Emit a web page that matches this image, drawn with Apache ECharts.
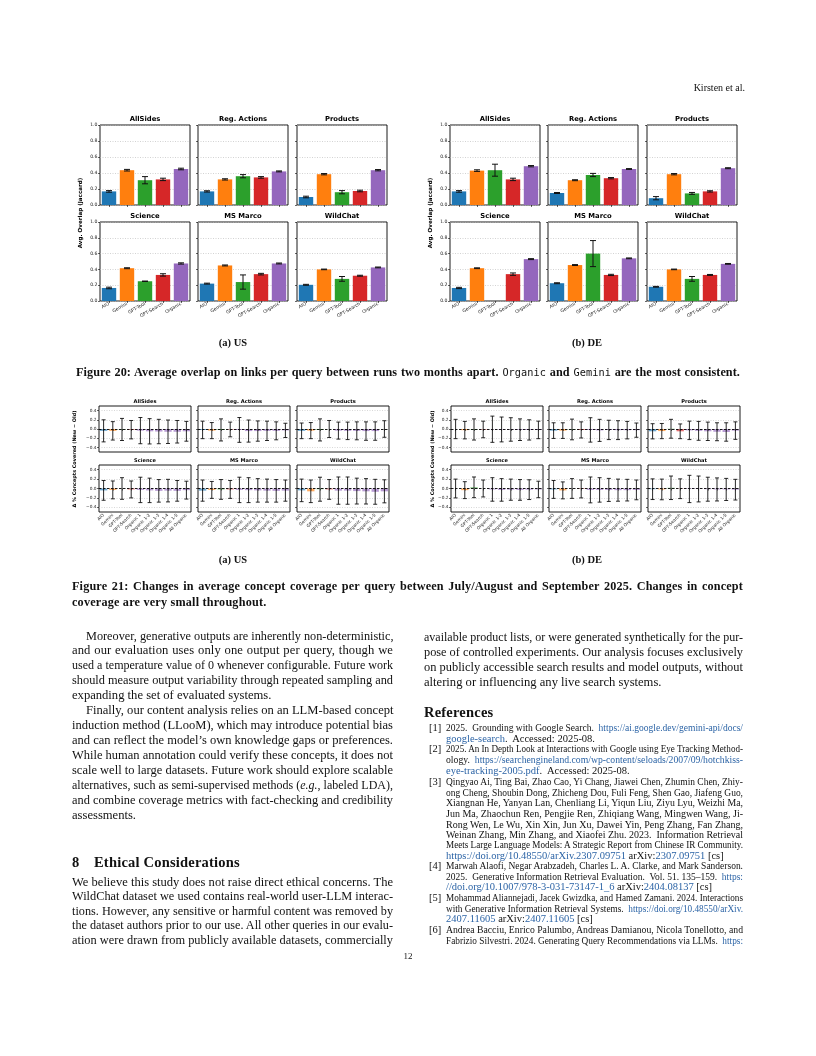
<!DOCTYPE html>
<html><head><meta charset="utf-8">
<script src="https://cdn.jsdelivr.net/npm/echarts@6/dist/echarts.min.js"></script>
<style>
html,body{margin:0;padding:0;background:#fff;}
#page{position:relative;width:816px;height:1056px;overflow:hidden;background:#fff;}
#chart{position:absolute;left:0;top:0;width:816px;height:1056px;}
.t{position:absolute;white-space:nowrap;color:#111;transform-origin:0 50%;}
.t a{color:#2c64a6;text-decoration:none;}
.t code{font-family:'DejaVu Sans Mono','Liberation Mono',monospace;font-weight:normal;font-size:0.84em;}
</style></head>
<body><div id="page"><div id="chart"></div></div>
<script>
// ---------------- DATA ----------------
const panelTitles = ['AllSides', 'Reg. Actions', 'Products', 'Science', 'MS Marco', 'WildChat'];
const fig20Categories = ['AIO', 'Gemini', 'GPT-Tool', 'GPT-Search', 'Organic'];
const fig21Categories = ['AIO', 'Gemini', 'GPT-Tool', 'GPT-Search', 'Organic 1', 'Organic 1-2', 'Organic 1-3', 'Organic 1-4', 'Organic 1-5', 'All Organic'];
const fig20Ticks = [0, 0.2, 0.4, 0.6, 0.8, 1.0];
const fig21Ticks = [-0.4, -0.2, 0, 0.2, 0.4];

// Figure 20 (a) US: avg Jaccard overlap, one row per panel
const fig20UsMean = [
  [0.17, 0.435, 0.31, 0.32, 0.45],
  [0.17, 0.32, 0.36, 0.345, 0.42],
  [0.10, 0.385, 0.16, 0.175, 0.435],
  [0.165, 0.415, 0.25, 0.33, 0.475],
  [0.22, 0.45, 0.24, 0.34, 0.475],
  [0.205, 0.40, 0.28, 0.32, 0.425]
];
const fig20UsErr = [
  [0.01, 0.01, 0.045, 0.015, 0.01],
  [0.008, 0.008, 0.02, 0.01, 0.006],
  [0.01, 0.008, 0.02, 0.01, 0.008],
  [0.01, 0.006, 0.002, 0.015, 0.008],
  [0.006, 0.006, 0.09, 0.01, 0.006],
  [0.006, 0.004, 0.03, 0.006, 0.005]
];
// Figure 20 (b) DE
const fig20DeMean = [
  [0.17, 0.43, 0.435, 0.32, 0.485],
  [0.15, 0.31, 0.375, 0.335, 0.45],
  [0.085, 0.385, 0.145, 0.17, 0.46],
  [0.165, 0.415, 0.0, 0.34, 0.53],
  [0.225, 0.455, 0.60, 0.33, 0.54],
  [0.18, 0.40, 0.28, 0.33, 0.47]
];
const fig20DeErr = [
  [0.01, 0.01, 0.075, 0.015, 0.008],
  [0.006, 0.006, 0.02, 0.008, 0.005],
  [0.02, 0.008, 0.012, 0.008, 0.006],
  [0.008, 0.005, 0.0, 0.015, 0.006],
  [0.006, 0.006, 0.165, 0.008, 0.005],
  [0.005, 0.004, 0.03, 0.006, 0.005]
];
// Figure 21 (a) US: change in % concepts covered (new - old)
const fig21UsMean = [
  [-0.04, -0.04, -0.01, -0.015, -0.035, -0.05, -0.055, -0.06, -0.06, -0.05],
  [-0.02, -0.035, -0.02, -0.01, -0.02, -0.045, -0.045, -0.04, -0.04, -0.03],
  [-0.04, -0.035, -0.02, 0.0, -0.035, -0.04, -0.04, -0.045, -0.045, 0.0],
  [-0.04, -0.03, 0.0, -0.02, -0.03, -0.04, -0.05, -0.045, -0.05, -0.035],
  [-0.045, -0.03, -0.02, -0.02, -0.03, -0.035, -0.04, -0.045, -0.05, -0.045],
  [-0.04, -0.06, -0.015, -0.02, -0.045, -0.045, -0.055, -0.06, -0.07, -0.06]
];
const fig21UsErr = [
  [0.24, 0.2, 0.24, 0.2, 0.285, 0.275, 0.265, 0.255, 0.245, 0.215],
  [0.19, 0.175, 0.24, 0.16, 0.27, 0.24, 0.22, 0.21, 0.195, 0.155],
  [0.17, 0.175, 0.24, 0.185, 0.185, 0.19, 0.195, 0.2, 0.2, 0.18],
  [0.21, 0.19, 0.23, 0.18, 0.27, 0.26, 0.24, 0.24, 0.22, 0.19],
  [0.225, 0.18, 0.21, 0.19, 0.27, 0.265, 0.25, 0.245, 0.24, 0.225],
  [0.24, 0.24, 0.255, 0.21, 0.29, 0.29, 0.275, 0.27, 0.265, 0.245]
];
// Figure 21 (b) DE
const fig21DeMean = [
  [0.0, -0.025, -0.01, -0.01, -0.005, -0.01, -0.01, -0.015, -0.02, -0.02],
  [-0.035, -0.035, -0.01, -0.02, -0.02, -0.03, -0.02, -0.025, -0.025, -0.025],
  [-0.05, -0.045, 0.005, -0.05, -0.03, -0.04, -0.05, -0.06, -0.065, -0.035],
  [0.0, -0.035, 0.025, 0.0, -0.02, -0.03, -0.025, -0.03, -0.025, -0.02],
  [-0.02, -0.04, 0.0, -0.01, -0.03, -0.03, -0.03, -0.035, -0.035, -0.03],
  [-0.015, -0.02, 0.015, -0.005, -0.01, -0.01, -0.015, -0.02, -0.02, -0.025]
];
const fig21DeErr = [
  [0.21, 0.19, 0.23, 0.18, 0.285, 0.27, 0.255, 0.235, 0.22, 0.19],
  [0.17, 0.17, 0.225, 0.175, 0.265, 0.24, 0.21, 0.205, 0.19, 0.155],
  [0.165, 0.165, 0.205, 0.16, 0.2, 0.205, 0.2, 0.195, 0.2, 0.19],
  [0.2, 0.18, 0.22, 0.18, 0.25, 0.24, 0.225, 0.22, 0.21, 0.175],
  [0.19, 0.18, 0.21, 0.19, 0.275, 0.26, 0.245, 0.235, 0.23, 0.21],
  [0.22, 0.22, 0.25, 0.21, 0.29, 0.275, 0.255, 0.245, 0.235, 0.22]
];

// ---------------- CHARTS ----------------
const PALETTE = ['#1f77b4', '#ff7f0e', '#2ca02c', '#d62728', '#9467bd'];
const SANS = 'DejaVu Sans';
const grids = [], xAxes = [], yAxes = [], series = [], graphics = [];

function tickFmt(v) {
  const s = Math.abs(v).toFixed(1);
  return v < -1e-9 ? '\u2212' + s : s;
}

function errRenderer(halfCap, color, lw) {
  return function (params, api) {
    const x = api.value(0), lo = api.value(1), hi = api.value(2);
    if (hi - lo <= 1e-9) return null;
    const a = api.coord([x, lo]), b = api.coord([x, hi]);
    const st = { stroke: color, lineWidth: lw };
    return { type: 'group', children: [
      { type: 'line', shape: { x1: a[0], y1: a[1], x2: b[0], y2: b[1] }, style: st },
      { type: 'line', shape: { x1: a[0] - halfCap, y1: a[1], x2: a[0] + halfCap, y2: a[1] }, style: st },
      { type: 'line', shape: { x1: b[0] - halfCap, y1: b[1], x2: b[0] + halfCap, y2: b[1] }, style: st }
    ]};
  };
}

function addPanel(p) {
  const gi = grids.length;
  grids.push({ left: p.left, top: p.top, width: p.width, height: p.height, show: true,
    borderColor: '#000', borderWidth: 0.9, backgroundColor: 'rgba(0,0,0,0)' });
  xAxes.push({ type: 'category', gridIndex: gi, data: p.cats,
    axisLine: { show: false },
    axisTick: { show: true, alignWithLabel: true, length: 2, lineStyle: { color: '#000', width: 0.6 } },
    axisLabel: { show: p.showX, rotate: p.rot, interval: 0, fontSize: p.tickFont, color: '#222', margin: 2.5, fontFamily: SANS },
    splitLine: { show: false } });
  const y = { type: 'value', gridIndex: gi, min: p.ymin, max: p.ymax,
    axisLine: { show: false },
    axisTick: { show: true, length: 2, lineStyle: { color: '#000', width: 0.6 } },
    axisLabel: { show: p.showY, fontSize: p.tickFont, color: '#222', margin: 2.5, fontFamily: SANS, formatter: tickFmt },
    splitLine: { show: false } };
  if (p.interval) {
    y.interval = p.interval;
    y.splitLine = { show: true, lineStyle: { type: [1, 1.5], color: '#b5b5b5', width: 0.6 } };
  } else {
    y.axisTick.customValues = p.ticks;
    y.axisLabel.customValues = p.ticks;
  }
  yAxes.push(y);

  const bar = { type: 'bar', xAxisIndex: gi, yAxisIndex: gi, silent: true, barCategoryGap: '20%',
    data: p.mean.map((v, i) => ({ value: v, itemStyle: { color: p.colorOf(i), opacity: p.barOpacity } })) };
  if (p.markLines) {
    bar.markLine = { silent: true, symbol: ['none', 'none'], label: { show: false },
      lineStyle: { type: [1, 1.5], color: '#bdbdbd', width: 0.6 },
      data: p.markLines.map(v => v === 0
        ? { yAxis: 0, lineStyle: { type: [2.5, 1.5], color: '#000', width: 0.9 } }
        : { yAxis: v }) };
  }
  series.push(bar);
  series.push({ type: 'custom', xAxisIndex: gi, yAxisIndex: gi, silent: true, z: 5,
    renderItem: errRenderer(p.cap, p.errColor, p.errWidth),
    encode: { x: 0, y: [1, 2] },
    data: p.mean.map((m, i) => [i, m - p.err[i], m + p.err[i]]) });

  graphics.push({ type: 'text', x: p.left + p.width / 2, y: p.top - p.titleOff, silent: true,
    style: { text: p.title, fontSize: p.titleFont, fontWeight: 'bold', fontFamily: SANS, fill: '#000',
      align: 'center', verticalAlign: 'middle' } });
}

function addFigure20(lefts, means, errs, ylabelX) {
  const tops = [125, 222], heights = [80, 79];
  for (let k = 0; k < 6; k++) {
    const r = Math.floor(k / 3), c = k % 3;
    addPanel({ left: lefts[c], top: tops[r], width: 90, height: heights[r],
      cats: fig20Categories, mean: means[k], err: errs[k], title: panelTitles[k],
      showX: r === 1, showY: c === 0, rot: 30, tickFont: 4.6, titleFont: 6.8, titleOff: 5.5,
      ymin: fig20Ticks[0], ymax: fig20Ticks[fig20Ticks.length - 1], interval: 0.2,
      colorOf: i => PALETTE[i], barOpacity: 1, cap: 3, errColor: '#111', errWidth: 1 });
  }
  graphics.push({ type: 'text', x: ylabelX, y: 213, rotation: Math.PI / 2, silent: true,
    style: { text: 'Avg. Overlap (Jaccard)', fontSize: 5.6, fontWeight: 'bold', fontFamily: SANS, fill: '#000',
      align: 'center', verticalAlign: 'middle' } });
}

function addFigure21(lefts, means, errs, ylabelX) {
  const tops = [406, 465], heights = [46, 47];
  for (let k = 0; k < 6; k++) {
    const r = Math.floor(k / 3), c = k % 3;
    addPanel({ left: lefts[c], top: tops[r], width: 92, height: heights[r],
      cats: fig21Categories, mean: means[k], err: errs[k], title: panelTitles[k],
      showX: r === 1, showY: c === 0, rot: 45, tickFont: 4.3, titleFont: 5.1, titleOff: 4.8,
      ymin: -0.5, ymax: 0.5, ticks: fig21Ticks, markLines: [-0.4, -0.2, 0.2, 0.4, 0],
      colorOf: i => PALETTE[Math.min(i, 4)], barOpacity: 0.65, cap: 2, errColor: '#111', errWidth: 0.9 });
  }
  graphics.push({ type: 'text', x: ylabelX, y: 459, rotation: Math.PI / 2, silent: true,
    style: { text: '\u0394 % Concepts Covered (New \u2212 Old)', fontSize: 4.9, fontWeight: 'bold', fontFamily: SANS, fill: '#000',
      align: 'center', verticalAlign: 'middle' } });
}

addFigure20([100, 198, 297], fig20UsMean, fig20UsErr, 81);
addFigure20([450, 548, 647], fig20DeMean, fig20DeErr, 431);
addFigure21([99, 198, 297], fig21UsMean, fig21UsErr, 75);
addFigure21([451, 549, 648], fig21DeMean, fig21DeErr, 433);

const chart = echarts.init(document.getElementById('chart'), null, { renderer: 'canvas', width: 816, height: 1056 });
chart.setOption({ animation: false, backgroundColor: 'transparent',
  grid: grids, xAxis: xAxes, yAxis: yAxes, series: series, graphic: { elements: graphics } });

// ---------------- PAGE TEXT ----------------
const page = document.getElementById('page');
const SERIF = "'Liberation Serif','DejaVu Serif',serif";
function line(html, x, yc, w, o) {
  const d = document.createElement('div');
  d.className = 't';
  const lh = o.size * 1.3;
  d.style.fontFamily = o.font || SERIF;
  d.style.fontSize = o.size + 'px';
  d.style.fontWeight = o.weight || 'normal';
  d.style.lineHeight = lh + 'px';
  d.style.top = (yc - lh / 2) + 'px';
  d.style.left = x + 'px';
  if (o.ls) d.style.letterSpacing = o.ls + 'px';
  d.innerHTML = html;
  page.appendChild(d);
  const nat = d.getBoundingClientRect().width;
  const align = o.align || 'left';
  if (align === 'justify') {
    const txt = d.textContent.trim().replace(/\s+/g, ' ');
    const n = (txt.match(/ /g) || []).length;
    if (nat < w && n > 0) {
      const extra = w - nat;
      const chars = txt.length;
      const ls = Math.min(extra * 0.45 / chars, 0.35);
      d.style.letterSpacing = ((o.ls || 0) + ls) + 'px';
      d.style.wordSpacing = ((extra - ls * chars) / n) + 'px';
    } else if (nat > w) d.style.transform = 'scaleX(' + (w / nat) + ')';
  } else if (align === 'center') {
    const s = nat > w ? w / nat : 1;
    d.style.left = (x + w / 2 - nat * s / 2) + 'px';
    if (s < 1) d.style.transform = 'scaleX(' + s + ')';
  } else if (align === 'right') {
    d.style.left = (x + w - nat) + 'px';
  } else if (nat > w) {
    d.style.transform = 'scaleX(' + (w / nat) + ')';
  }
}
function block(lines, x, y0, lead, w, o) {
  lines.forEach((ln, i) => {
    const isObj = typeof ln === 'object';
    const txt = isObj ? ln.t : ln;
    const ind = isObj && ln.indent ? ln.indent : 0;
    const al = isObj && ln.last ? 'left' : 'justify';
    line(txt, x + ind, y0 + i * lead, w - ind, Object.assign({}, o, { align: al }));
  });
}

// header
line('Kirsten et al.', 600, 87, 145, { size: 10, align: 'right' });

// figure captions
line('(a) US', 183, 343, 100, { size: 10.5, weight: 'bold', align: 'center' });
line('(b) DE', 537, 343, 100, { size: 10.5, weight: 'bold', align: 'center' });
line('Figure 20: Average overlap on links per query between runs two months apart. <code>Organic</code> and <code>Gemini</code> are the most consistent.',
  76, 373, 664, { size: 12.2, weight: 'bold', align: 'justify' });
line('(a) US', 183, 560, 100, { size: 10.5, weight: 'bold', align: 'center' });
line('(b) DE', 537, 560, 100, { size: 10.5, weight: 'bold', align: 'center' });
line('Figure 21: Changes in average concept coverage per query between July/August and September 2025. Changes in concept',
  72, 587, 671, { size: 12.2, weight: 'bold', align: 'justify' });
line('coverage are very small throughout.', 72, 602.5, 671, { size: 12.2, weight: 'bold', align: 'left', ls: 0.2 });

// left column
const body = { size: 12.6 };
block([
  { t: 'Moreover, generative outputs are inherently non-deterministic,', indent: 13.5 },
  'and our evaluation uses only one output per query, though we',
  'used a temperature value of 0 whenever configurable. Future work',
  'should measure output variability through repeated sampling and',
  { t: 'expanding the set of evaluated systems.', last: true },
  { t: 'Finally, our content analysis relies on an LLM-based concept', indent: 13.5 },
  'induction method (LLooM), which may introduce potential bias',
  'and can reflect the model\u2019s own knowledge gaps or preferences.',
  'While human annotation could verify these concepts, it does not',
  'scale well to large datasets. Future work should explore scalable',
  'alternatives, such as semi-supervised methods (<i>e.g.</i>, labeled LDA),',
  'and combine coverage metrics with fact-checking and credibility',
  { t: 'assessments.', last: true }
], 72, 635.7, 14.95, 321, body);

line('8', 72, 862.3, 20, { size: 14.5, weight: 'bold' });
line('Ethical Considerations', 94, 862.3, 250, { size: 14.5, weight: 'bold', ls: 0.2 });
block([
  'We believe this study does not raise direct ethical concerns. The',
  'WildChat dataset we used contains real-world user-LLM interac-',
  'tions. However, any sensitive or harmful content was removed by',
  'the dataset authors prior to our use. All other queries in our evalu-',
  'ation were drawn from publicly available datasets, commercially'
], 72, 881.7, 14.65, 321, body);

// right column
block([
  'available product lists, or were generated synthetically for the pur-',
  'pose of controlled experiments. Our analysis focuses exclusively',
  'on publicly accessible search results and model outputs, without',
  { t: 'altering or influencing any live search systems.', last: true }
], 424, 637.3, 14.8, 319, body);

line('References', 424, 712.3, 200, { size: 14.5, weight: 'bold', ls: 0.2 });

const refO = { size: 10.5 };
const refX = 446, refW = 297;
function ref(num, lines, ys, lastJust) {
  line('[' + num + ']', 429, ys[0], 16, refO);
  lines.forEach((ln, i) => {
    const last = i === lines.length - 1 && !lastJust;
    line(ln, refX, ys[i], refW, Object.assign({}, refO, { align: last ? 'left' : 'justify' }));
  });
}
ref(1, [
  '2025.&nbsp; Grounding with Google Search.&nbsp; <a>https://ai.google.dev/gemini-api/docs/</a>',
  '<a>google-search</a>.&nbsp; Accessed: 2025-08.'
], [728.3, 738.7]);
ref(2, [
  '2025. An In Depth Look at Interactions with Google using Eye Tracking Method-',
  'ology.&nbsp; <a>https://searchengineland.com/wp-content/seloads/2007/09/hotchkiss-</a>',
  '<a>eye-tracking-2005.pdf</a>.&nbsp; Accessed: 2025-08.'
], [749.3, 759.7, 770.7]);
ref(3, [
  'Qingyao Ai, Ting Bai, Zhao Cao, Yi Chang, Jiawei Chen, Zhumin Chen, Zhiy-',
  'ong Cheng, Shoubin Dong, Zhicheng Dou, Fuli Feng, Shen Gao, Jiafeng Guo,',
  'Xiangnan He, Yanyan Lan, Chenliang Li, Yiqun Liu, Ziyu Lyu, Weizhi Ma,',
  'Jun Ma, Zhaochun Ren, Pengjie Ren, Zhiqiang Wang, Mingwen Wang, Ji-',
  'Rong Wen, Le Wu, Xin Xin, Jun Xu, Dawei Yin, Peng Zhang, Fan Zhang,',
  'Weinan Zhang, Min Zhang, and Xiaofei Zhu. 2023.&nbsp; Information Retrieval',
  'Meets Large Language Models: A Strategic Report from Chinese IR Community.',
  '<a>https://doi.org/10.48550/arXiv.2307.09751</a> arXiv:<a>2307.09751</a> [cs]'
], [782, 792.7, 803.3, 814, 824.6, 834.5, 845, 855.7]);
ref(4, [
  'Marwah Alaofi, Negar Arabzadeh, Charles L. A. Clarke, and Mark Sanderson.',
  '2025.&nbsp; Generative Information Retrieval Evaluation.&nbsp; Vol. 51. 135\u2013159.&nbsp; <a>https:</a>',
  '<a>//doi.org/10.1007/978-3-031-73147-1_6</a> arXiv:<a>2404.08137</a> [cs]'
], [866.3, 877, 887.3]);
ref(5, [
  'Mohammad Aliannejadi, Jacek Gwizdka, and Hamed Zamani. 2024. Interactions',
  'with Generative Information Retrieval Systems.&nbsp; <a>https://doi.org/10.48550/arXiv.</a>',
  '<a>2407.11605</a> arXiv:<a>2407.11605</a> [cs]'
], [898.3, 909, 919.3]);
ref(6, [
  'Andrea Bacciu, Enrico Palumbo, Andreas Damianou, Nicola Tonellotto, and',
  'Fabrizio Silvestri. 2024. Generating Query Recommendations via LLMs.&nbsp; <a>https:</a>'
], [930, 940.7], true);

line('12', 398, 957, 20, { size: 9, align: 'center' });
</script></body></html>
